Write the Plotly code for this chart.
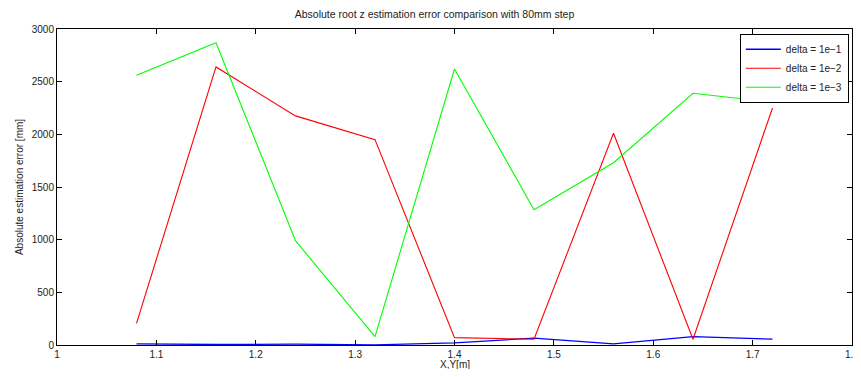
import plotly.graph_objects as go

x_vals = [1.08, 1.16, 1.24, 1.32, 1.40, 1.48, 1.56, 1.64, 1.72]
err_1e1 = [10, 5, 8, 2, 20, 65, 10, 80, 55]
err_1e2 = [205, 2640, 2175, 1950, 70, 55, 2010, 55, 2250]
err_1e3 = [2560, 2870, 990, 80, 2620, 1285, 1730, 2390, 2305]
x_ticks = [1, 1.1, 1.2, 1.3, 1.4, 1.5, 1.6, 1.7, 1.8]
y_ticks = [0, 500, 1000, 1500, 2000, 2500, 3000]

fig = go.Figure()
fig.add_trace(go.Scatter(x=x_vals, y=err_1e1, mode="lines", name="delta = 1e\u22121",
                         line=dict(color="#0000ff", width=1.3)))
fig.add_trace(go.Scatter(x=x_vals, y=err_1e2, mode="lines", name="delta = 1e\u22122",
                         line=dict(color="#ff0000", width=1.1)))
fig.add_trace(go.Scatter(x=x_vals, y=err_1e3, mode="lines", name="delta = 1e\u22123",
                         line=dict(color="#00ff00", width=1.1)))

axis_common = dict(showgrid=False, zeroline=False, showline=True, linecolor="black",
                   linewidth=1, mirror="ticks", ticks="inside", ticklen=5,
                   tickcolor="black", tickfont=dict(size=10, color="#222"),
                   automargin=False, ticklabeloverflow="allow")

# page body has an 8px margin; keep the figure height inside the view to avoid a scrollbar
fig.update_layout(
    width=853, height=361,
    paper_bgcolor="white", plot_bgcolor="white",
    margin=dict(l=49, r=9, t=21, b=24),
    font=dict(family="Liberation Sans, Arial, sans-serif", size=10, color="#222"),
    title=dict(text="Absolute root z estimation error comparison with 80mm step",
               x=0.5, xanchor="center", y=0.993, yanchor="top",
               font=dict(size=10.5, color="#222")),
    xaxis=dict(range=[1, 1.8], tickvals=x_ticks, **axis_common),
    yaxis=dict(range=[0, 3000], tickvals=y_ticks,
               title=dict(text="Absolute estimation error [mm]", standoff=6, font=dict(size=10)),
               **axis_common),
    legend=dict(x=0.996, y=0.985, xanchor="right", yanchor="top",
                bgcolor="white", bordercolor="black", borderwidth=1,
                font=dict(size=10), tracegroupgap=0, itemwidth=35),
    showlegend=True,
)

fig.add_annotation(text="X,Y[m]", xref="paper", yref="paper", x=0.5, y=0,
                   xanchor="center", yanchor="middle", yshift=-19, showarrow=False,
                   font=dict(size=10, color="#222"))

fig.write_html("out.html")
